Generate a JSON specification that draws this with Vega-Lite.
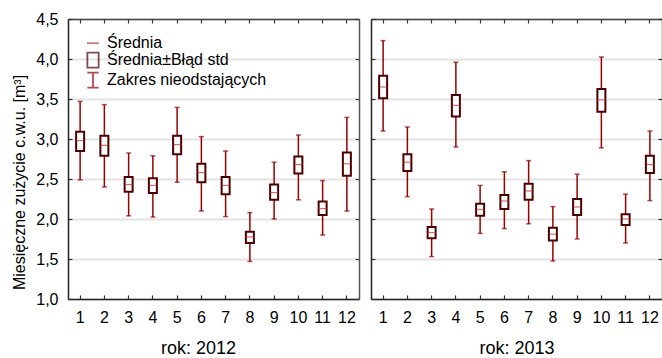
{
  "$schema": "https://vega.github.io/schema/vega-lite/v6.json",
  "autosize": {"type": "pad"},
  "padding": {"left": 11, "top": 11, "right": 0, "bottom": 0},
  "background": "white",
  "spacing": 12,
  "bounds": "flush",
  "datasets": {
    "d": [
      {"rok": 2012, "m": 1, "mean": 2.98, "slo": 2.85, "shi": 3.09, "wlo": 2.49, "whi": 3.47},
      {"rok": 2012, "m": 2, "mean": 2.92, "slo": 2.79, "shi": 3.04, "wlo": 2.40, "whi": 3.43},
      {"rok": 2012, "m": 3, "mean": 2.43, "slo": 2.34, "shi": 2.525, "wlo": 2.04, "whi": 2.825},
      {"rok": 2012, "m": 4, "mean": 2.42, "slo": 2.325, "shi": 2.51, "wlo": 2.025, "whi": 2.79},
      {"rok": 2012, "m": 5, "mean": 2.93, "slo": 2.81, "shi": 3.04, "wlo": 2.46, "whi": 3.395},
      {"rok": 2012, "m": 6, "mean": 2.58, "slo": 2.46, "shi": 2.69, "wlo": 2.10, "whi": 3.03},
      {"rok": 2012, "m": 7, "mean": 2.42, "slo": 2.31, "shi": 2.525, "wlo": 2.03, "whi": 2.85},
      {"rok": 2012, "m": 8, "mean": 1.775, "slo": 1.70, "shi": 1.84, "wlo": 1.47, "whi": 2.08},
      {"rok": 2012, "m": 9, "mean": 2.33, "slo": 2.24, "shi": 2.43, "wlo": 2.00, "whi": 2.71},
      {"rok": 2012, "m": 10, "mean": 2.68, "slo": 2.57, "shi": 2.78, "wlo": 2.24, "whi": 3.05},
      {"rok": 2012, "m": 11, "mean": 2.13, "slo": 2.05, "shi": 2.22, "wlo": 1.80, "whi": 2.48},
      {"rok": 2012, "m": 12, "mean": 2.69, "slo": 2.54, "shi": 2.83, "wlo": 2.10, "whi": 3.27},
      {"rok": 2013, "m": 1, "mean": 3.65, "slo": 3.51, "shi": 3.79, "wlo": 3.10, "whi": 4.23},
      {"rok": 2013, "m": 2, "mean": 2.71, "slo": 2.60, "shi": 2.81, "wlo": 2.28, "whi": 3.15},
      {"rok": 2013, "m": 3, "mean": 1.83, "slo": 1.76, "shi": 1.90, "wlo": 1.53, "whi": 2.125},
      {"rok": 2013, "m": 4, "mean": 3.42, "slo": 3.28, "shi": 3.55, "wlo": 2.90, "whi": 3.96},
      {"rok": 2013, "m": 5, "mean": 2.12, "slo": 2.04, "shi": 2.19, "wlo": 1.82, "whi": 2.42},
      {"rok": 2013, "m": 6, "mean": 2.225, "slo": 2.125, "shi": 2.30, "wlo": 1.88, "whi": 2.59},
      {"rok": 2013, "m": 7, "mean": 2.35, "slo": 2.24, "shi": 2.44, "wlo": 1.94, "whi": 2.73},
      {"rok": 2013, "m": 8, "mean": 1.81, "slo": 1.73, "shi": 1.89, "wlo": 1.475, "whi": 2.155},
      {"rok": 2013, "m": 9, "mean": 2.15, "slo": 2.05, "shi": 2.25, "wlo": 1.75, "whi": 2.56},
      {"rok": 2013, "m": 10, "mean": 3.49, "slo": 3.34, "shi": 3.625, "wlo": 2.89, "whi": 4.025},
      {"rok": 2013, "m": 11, "mean": 2.00, "slo": 1.925, "shi": 2.06, "wlo": 1.70, "whi": 2.31},
      {"rok": 2013, "m": 12, "mean": 2.68, "slo": 2.575, "shi": 2.79, "wlo": 2.23, "whi": 3.10}
    ]
  },
  "config": {
    "font": "Liberation Sans",
    "view": {"stroke": null},
    "axis": {
      "labelFont": "Liberation Sans",
      "labelFontSize": 16,
      "labelColor": "#000",
      "titleFont": "Liberation Sans",
      "titleFontWeight": "normal",
      "titleColor": "#000",
      "tickColor": "#333",
      "tickWidth": 1.2,
      "tickSize": -4,
      "domainColor": "#222",
      "domainWidth": 1.5,
      "gridColor": "#e3e3e3",
      "gridWidth": 2
    }
  },
  "hconcat": [
    {
      "width": 291,
      "height": 280,
      "data": {"name": "d"},
      "transform": [{"filter": "datum.rok == 2012"}],
      "layer": [
        {
          "mark": {"type": "rule", "color": "#990000", "strokeWidth": 1.5},
          "encoding": {
            "x": {"field": "m", "type": "ordinal", "scale": {"type": "band", "paddingInner": 0, "paddingOuter": 0},
              "axis": {"orient": "bottom", "labelAngle": 0, "labelPadding": 14, "grid": false, "title": "rok: 2012", "titleX": 130, "titleY": 49, "titleBaseline": "middle", "titleFontSize": 18}},
            "y": {"field": "wlo", "type": "quantitative", "scale": {"domain": [1, 4.5], "nice": false, "zero": false},
              "axis": {"orient": "left", "values": [1, 1.5, 2, 2.5, 3, 3.5, 4, 4.5], "labelExpr": "replace(format(datum.value, '.1f'), '.', ',')", "labelPadding": 14, "grid": true, "title": "Miesięczne zużycie c.w.u. [m³]", "titleX": -49, "titleY": 163, "titleBaseline": "middle", "titleAngle": -90, "titleFontSize": 16}},
            "y2": {"field": "whi"}
          }
        },
        {
          "mark": {"type": "tick", "color": "#990000", "size": 5, "thickness": 1.5},
          "encoding": {
            "x": {"field": "m", "type": "ordinal", "axis": null},
            "y": {"field": "whi", "type": "quantitative", "axis": null}
          }
        },
        {
          "mark": {"type": "tick", "color": "#990000", "size": 5, "thickness": 1.5},
          "encoding": {
            "x": {"field": "m", "type": "ordinal", "axis": null},
            "y": {"field": "wlo", "type": "quantitative", "axis": null}
          }
        },
        {
          "mark": {"type": "bar", "width": 8, "fill": "white", "stroke": "#4d0000", "strokeWidth": 2},
          "encoding": {
            "x": {"field": "m", "type": "ordinal", "axis": {"orient": "top", "labels": false, "title": null, "grid": false, "domainColor": "#444"}},
            "y": {"field": "shi", "type": "quantitative", "axis": {"orient": "right", "labels": false, "title": null, "grid": false, "values": [1, 1.5, 2, 2.5, 3, 3.5, 4, 4.5], "domainColor": "#555"}},
            "y2": {"field": "slo"}
          }
        },
        {
          "mark": {"type": "tick", "color": "#c03030", "size": 8, "thickness": 1.2},
          "encoding": {
            "x": {"field": "m", "type": "ordinal", "axis": null},
            "y": {"field": "mean", "type": "quantitative", "axis": null}
          }
        },
        {
          "mark": {"type": "point", "filled": false, "strokeWidth": 1.8},
          "transform": [{"filter": "false"}],
          "encoding": {
            "shape": {"field": "leg", "type": "nominal",
              "scale": {"domain": ["Średnia", "Średnia±Błąd std", "Zakres nieodstających"], "range": ["M-0.8,0H0.8", "M-0.75,-1H0.75V1H-0.75Z", "M-0.75,-1H0.75M0,-1V1M-0.75,1H0.75"]},
              "legend": {"orient": "none", "legendX": 16.5, "legendY": 15.7, "title": null, "labelFont": "Liberation Sans", "labelFontSize": 16, "labelColor": "#000", "labelOffset": 5.5, "rowPadding": -3.6, "symbolSize": 225, "symbolStrokeWidth": 1.8, "padding": 0}},
            "color": {"field": "leg", "type": "nominal",
              "scale": {"domain": ["Średnia", "Średnia±Błąd std", "Zakres nieodstających"], "range": ["#b84040", "#4d0000", "#990000"]}}
          }
        }
      ],
      "resolve": {"axis": {"x": "independent", "y": "independent"}}
    },
    {
      "width": 291,
      "height": 280,
      "data": {"name": "d"},
      "transform": [{"filter": "datum.rok == 2013"}],
      "layer": [
        {
          "mark": {"type": "rule", "color": "#990000", "strokeWidth": 1.5},
          "encoding": {
            "x": {"field": "m", "type": "ordinal", "scale": {"type": "band", "paddingInner": 0, "paddingOuter": 0},
              "axis": {"orient": "bottom", "labelAngle": 0, "labelPadding": 14, "grid": false, "title": "rok: 2013", "titleX": 145.5, "titleY": 49, "titleBaseline": "middle", "titleFontSize": 18}},
            "y": {"field": "wlo", "type": "quantitative", "scale": {"domain": [1, 4.5], "nice": false, "zero": false},
              "axis": {"orient": "left", "values": [1, 1.5, 2, 2.5, 3, 3.5, 4, 4.5], "labels": false, "grid": true, "title": null}},
            "y2": {"field": "whi"}
          }
        },
        {
          "mark": {"type": "tick", "color": "#990000", "size": 5, "thickness": 1.5},
          "encoding": {
            "x": {"field": "m", "type": "ordinal", "axis": null},
            "y": {"field": "whi", "type": "quantitative", "axis": null}
          }
        },
        {
          "mark": {"type": "tick", "color": "#990000", "size": 5, "thickness": 1.5},
          "encoding": {
            "x": {"field": "m", "type": "ordinal", "axis": null},
            "y": {"field": "wlo", "type": "quantitative", "axis": null}
          }
        },
        {
          "mark": {"type": "bar", "width": 8, "fill": "white", "stroke": "#4d0000", "strokeWidth": 2},
          "encoding": {
            "x": {"field": "m", "type": "ordinal", "axis": {"orient": "top", "labels": false, "title": null, "grid": false, "domainColor": "#444"}},
            "y": {"field": "shi", "type": "quantitative", "axis": {"orient": "right", "labels": false, "title": null, "grid": false, "values": [1, 1.5, 2, 2.5, 3, 3.5, 4, 4.5], "domainColor": "#555"}},
            "y2": {"field": "slo"}
          }
        },
        {
          "mark": {"type": "tick", "color": "#c03030", "size": 8, "thickness": 1.2},
          "encoding": {
            "x": {"field": "m", "type": "ordinal", "axis": null},
            "y": {"field": "mean", "type": "quantitative", "axis": null}
          }
        }
      ],
      "resolve": {"axis": {"x": "independent", "y": "independent"}}
    }
  ]
}
